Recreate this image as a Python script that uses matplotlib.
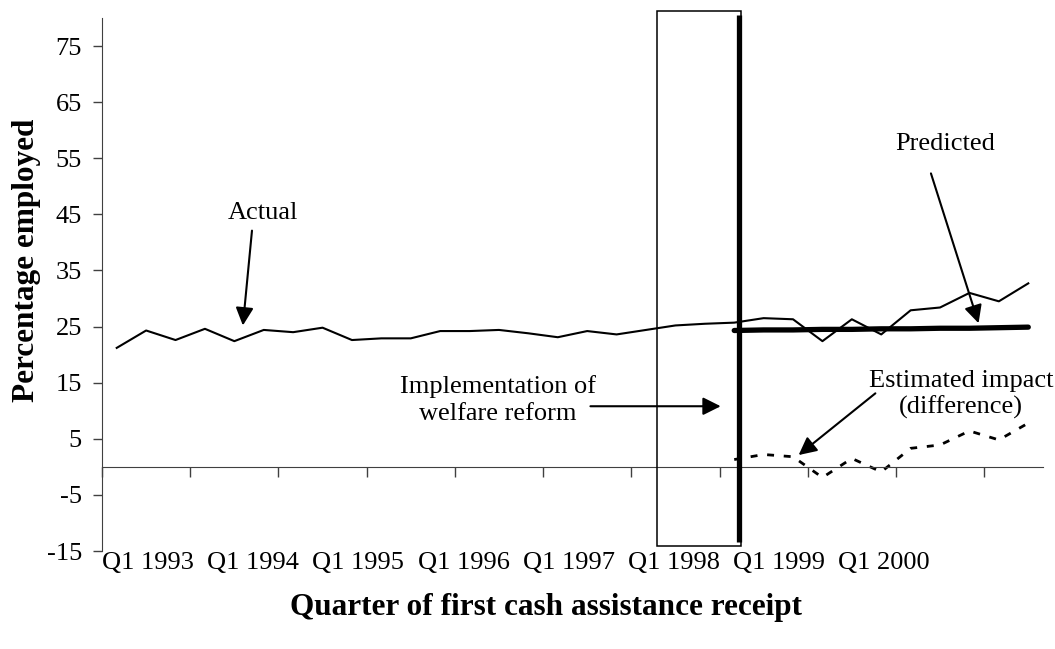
import numpy as np
import matplotlib
matplotlib.use("Agg")
import matplotlib.pyplot as plt
from matplotlib.patches import Rectangle
from matplotlib.transforms import blended_transform_factory

plt.rcParams['font.family'] = ['Liberation Serif', 'DejaVu Serif']

# quarters Q1 1993 .. Q4 2000
quarters = ["Q%d %d" % (q, y) for y in range(1993, 2001) for q in range(1, 5)]

actual = [21.2, 24.3, 22.6, 24.6, 22.4, 24.4, 24.0, 24.8, 22.6, 22.9, 22.9, 24.2,
          24.2, 24.4, 23.8, 23.1, 24.2, 23.6, 24.4, 25.2, 25.5, 25.7, 26.5, 26.3,
          22.4, 26.3, 23.6, 27.9, 28.4, 31.0, 29.5, 32.7]
# predicted and impact start at Q2 1998
start = quarters.index("Q2 1998")
predicted = [24.3, 24.4, 24.4, 24.5, 24.5, 24.6, 24.6, 24.7, 24.7, 24.8, 24.9]
impact = [1.3, 2.2, 1.8, -1.9, 1.5, -0.9, 3.3, 3.9, 6.4, 4.8, 7.8]

xtick_labels = ["Q1 1993", "Q1 1994", "Q1 1995", "Q1 1996", "Q1 1997",
                "Q1 1998", "Q1 1999", "Q1 2000"]
yticks = [-15, -5, 5, 15, 25, 35, 45, 55, 65, 75]

fs = 19
fs_title = 22.5

fig = plt.figure(figsize=(10.55, 6.49), dpi=100)
ax = fig.add_axes([0.0967, 0.151, 0.8919, 0.8213])

x = np.arange(len(quarters))
x_pred = x[start:start + len(predicted)]

ax.plot(x, actual, color='black', lw=1.5)
ax.plot(x_pred, predicted, color='black', lw=3.8, solid_capstyle='round')
ax.plot(x_pred, impact, color='black', lw=2.0, linestyle=(0, (2.5, 3.5)))

ax.set_xlim(-0.5, len(quarters) - 0.5)
ax.set_ylim(-15, 80)

# box around the reform period and the reform line
ax.add_patch(Rectangle((18.36, -14.1), 2.86, 95.3, fill=False, edgecolor='black',
                       lw=1.1, clip_on=False, zorder=3))
ax.plot([21.15, 21.15], [-13.4, 80.5], color='black', lw=3.8, clip_on=False,
        solid_capstyle='butt', zorder=4)

# axes look like excel
ax.spines['top'].set_visible(False)
ax.spines['right'].set_visible(False)
ax.spines['bottom'].set_position(('data', 0))
ax.spines['left'].set_color('#404040')
ax.spines['bottom'].set_color('#404040')

ax.set_yticks(yticks)
ax.set_yticklabels([str(v) for v in yticks], fontsize=fs)
ax.tick_params(axis='y', direction='out', length=6.5, width=1, color='#404040', pad=8)

ax.set_xticks(np.arange(-0.5, len(quarters) - 0.5, 3))
ax.set_xticklabels([])
ax.tick_params(axis='x', direction='out', length=7, width=1, color='#404040')

# category labels sit under the plot, not on the zero line
trans = blended_transform_factory(ax.transData, ax.transAxes)
label_pos = 1.07 + 3.574 * np.arange(len(xtick_labels))
for p, lab in zip(label_pos, xtick_labels):
    ax.text(p, -0.022, lab, transform=trans, ha='center', va='center', fontsize=fs)

fig.text(27 / 1055, 1 - 260 / 649, "Percentage employed", rotation=90,
         ha='center', va='center', fontsize=fs_title, fontweight='bold')
fig.text(546 / 1055, 1 - 608 / 649, "Quarter of first cash assistance receipt",
         ha='center', va='center', fontsize=fs_title, fontweight='bold')

arrow = dict(arrowstyle='-|>,head_length=0.4,head_width=0.2', mutation_scale=27,
             lw=1.5, color='black', shrinkA=0, shrinkB=0)

ax.text(4.96, 45.2, "Actual", ha='center', va='center', fontsize=fs)
ax.annotate("", xy=(4.29, 25.2), xytext=(4.6, 42.1), arrowprops=arrow)

ax.text(28.16, 57.5, "Predicted", ha='center', va='center', fontsize=fs)
ax.annotate("", xy=(29.31, 25.6), xytext=(27.69, 52.3), arrowprops=arrow)

ax.text(12.95, 11.9, "Implementation of\nwelfare reform", ha='center', va='center',
        fontsize=fs, linespacing=1.25)
ax.annotate("", xy=(20.54, 10.8), xytext=(16.11, 10.8), arrowprops=arrow)

ax.text(28.71, 12.9, "Estimated impact\n(difference)", ha='center', va='center',
        fontsize=fs, linespacing=1.25)
ax.annotate("", xy=(23.19, 2.1), xytext=(25.8, 13.1), arrowprops=arrow)

fig.savefig("out.png", dpi=100)
